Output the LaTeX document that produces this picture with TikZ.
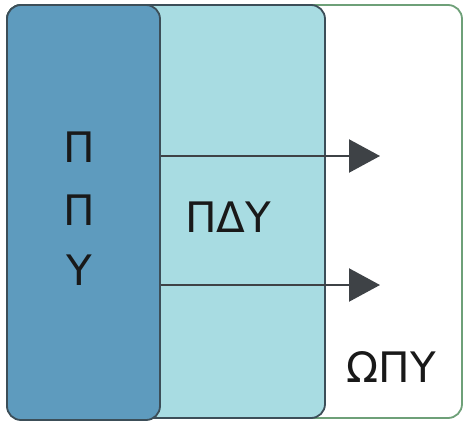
\documentclass[tikz,border=0pt]{standalone}
\usepackage{fontspec}
\setmainfont{DejaVu Sans}
\usetikzlibrary{arrows.meta}

\definecolor{darkblue}{RGB}{94,155,190}
\definecolor{lightcyan}{RGB}{168,220,226}
\definecolor{slate}{RGB}{60,78,88}
\definecolor{greenedge}{RGB}{110,160,120}
\definecolor{arrowgray}{RGB}{62,66,70}

\begin{document}
\begin{tikzpicture}[x=1pt,y=-1pt,>={Triangle[length=31pt,width=33pt]},
  layer box/.style={rounded corners=14pt,line width=1.8pt,inner sep=0pt},
  label text/.style={font=\fontsize{42}{42}\selectfont,text=black!90,inner sep=0pt},
  flow/.style={->,line width=2.2pt,color=arrowgray}]

  \useasboundingbox (0,0) rectangle (465,421);

  \node[layer box,draw=greenedge,fill=white,minimum width=455pt,minimum height=413pt] (opu) at (234.5,211.5) {};
  \node[layer box,draw=slate,fill=lightcyan,minimum width=318pt,minimum height=413pt] (pdu) at (166,211.5) {};
  \node[layer box,draw=slate,fill=darkblue,minimum width=153pt,minimum height=415pt] (ppu) at (83.5,212.5) {};

  \node[label text] (p1) at (79,147) {Π};
  \node[label text] (p2) at (79,210) {Π};
  \node[label text] (y1) at (79,270) {Υ};
  \node[label text] (pdy) at (228,217) {ΠΔΥ};
  \node[label text] (opy) at (391,367) {ΩΠΥ};

  \coordinate (end1) at (380,156);
  \coordinate (end2) at (380,285);

  \draw[flow] (ppu.east |- end1) -- (end1);
  \draw[flow] (ppu.east |- end2) -- (end2);

\end{tikzpicture}
\end{document}
